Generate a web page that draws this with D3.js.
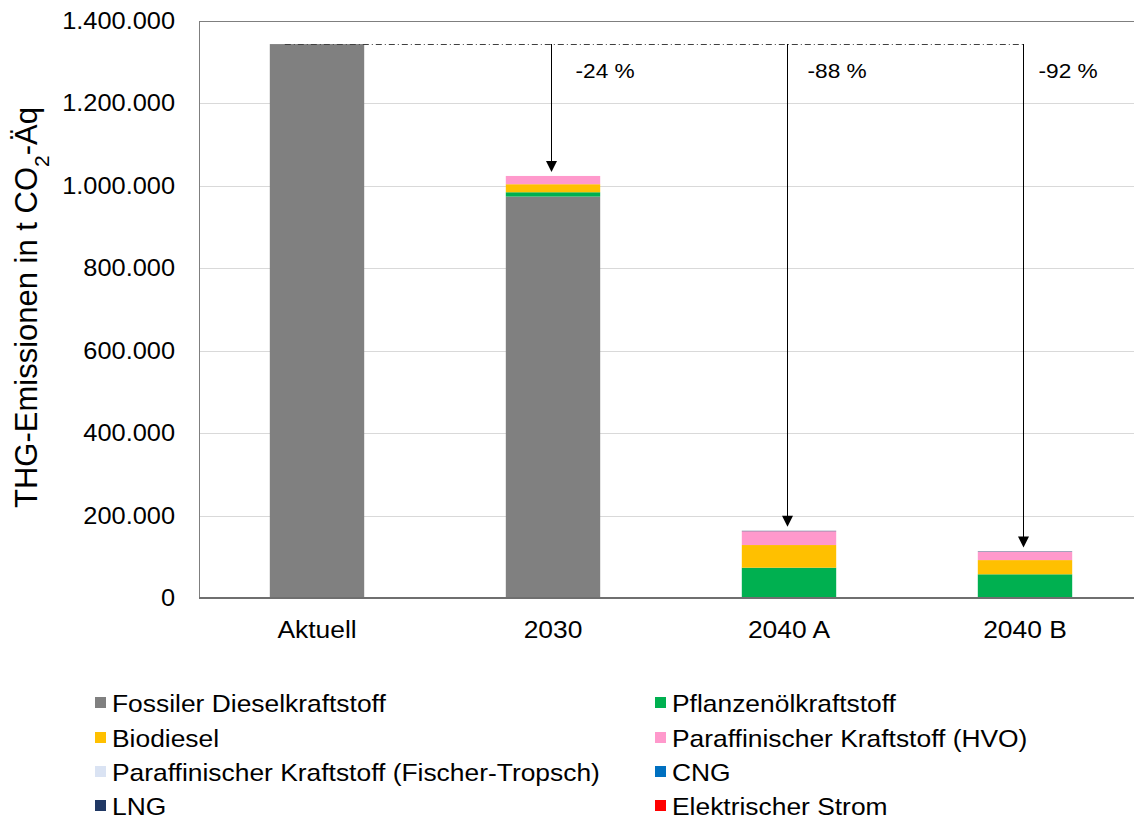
<!DOCTYPE html>
<html>
<head>
<meta charset="utf-8">
<script src="https://cdn.jsdelivr.net/npm/d3@7"></script>
<style>
  body { margin: 0; background: #fff; }
  svg { font-family: "Liberation Sans", Arial, sans-serif; }
</style>
</head>
<body>
<svg id="plot"></svg>
<script>
const categories = ["Aktuell", "2030", "2040 A", "2040 B"];
const seriesNames = [
  "Fossiler Dieselkraftstoff", "Pflanzenölkraftstoff", "Biodiesel",
  "Paraffinischer Kraftstoff (HVO)", "Paraffinischer Kraftstoff (Fischer-Tropsch)",
  "CNG", "LNG", "Elektrischer Strom"
];
const seriesColors = ["#808080", "#00B050", "#FFC000", "#FF99CC", "#DAE3F3", "#0070C0", "#203864", "#FF0000"];
const fossil = [1344000, 974000, 0, 0];
const pflanzenoel = [0, 10500, 73500, 57500];
const biodiesel = [0, 19500, 55000, 34500];
const hvo = [0, 20000, 33500, 20000];
const fischerTropsch = [0, 0, 0, 0];
const cng = [0, 0, 0, 0];
const lng = [0, 0, 1000, 1000];
const strom = [0, 0, 0, 0];
const reductionLabels = ["", "-24 %", "-88 %", "-92 %"];
const yTicks = [0, 200000, 400000, 600000, 800000, 1000000, 1200000, 1400000];

const dimensions = { width: 1134, height: 819, left: 199, top: 21, right: 1143, bottom: 598 };
const stretch = 1.08; // text in the reference is a bit wider than tall
const labelOffsets = [0, 24, 20, 15];

const allSeries = [fossil, pflanzenoel, biodiesel, hvo, fischerTropsch, cng, lng, strom];
const table = categories.map((c, i) => {
  const row = { cat: c };
  seriesNames.forEach((s, j) => row[s] = allSeries[j][i]);
  return row;
});
const stacked = d3.stack().keys(seriesNames)(table);

const de = d3.formatLocale({ decimal: ",", thousands: ".", grouping: [3], currency: ["", " €"] });
const fmt = de.format(",.0f");

const svg = d3.select("#plot")
  .attr("width", dimensions.width)
  .attr("height", dimensions.height);

const xScale = d3.scaleBand()
  .domain(categories)
  .range([dimensions.left, dimensions.right])
  .paddingInner(0.6)
  .paddingOuter(0.3);

const yScale = d3.scaleLinear()
  .domain([0, 1400000])
  .range([dimensions.bottom, dimensions.top]);

// places a stretched text at x,y
var putText = function (sel, x, y, size, str, anchor, sx) {
  return sel.append("text")
    .attr("transform", `translate(${x},${y}) scale(${sx || stretch},1)`)
    .attr("font-size", size)
    .attr("text-anchor", anchor || "start")
    .attr("fill", "#000")
    .text(str);
};

// gridlines
svg.append("g")
  .selectAll("line")
  .data(yTicks.slice(1, -1))
  .join("line")
  .attr("x1", dimensions.left).attr("x2", dimensions.right)
  .attr("y1", d => Math.round(yScale(d)) + 0.5).attr("y2", d => Math.round(yScale(d)) + 0.5)
  .attr("stroke", "#d9d9d9").attr("stroke-width", 1);

// plot frame
svg.append("rect")
  .attr("x", dimensions.left + 0.5).attr("y", dimensions.top + 0.5)
  .attr("width", dimensions.right - dimensions.left)
  .attr("height", dimensions.bottom - dimensions.top)
  .attr("fill", "none").attr("stroke", "#7f7f7f").attr("stroke-width", 1);

// bars
svg.append("g")
  .selectAll("g")
  .data(stacked)
  .join("g")
  .attr("fill", (d, i) => seriesColors[i])
  .selectAll("rect")
  .data(d => d)
  .join("rect")
  .attr("x", d => xScale(d.data.cat))
  .attr("width", xScale.bandwidth())
  .attr("y", d => yScale(d[1]))
  .attr("height", d => yScale(d[0]) - yScale(d[1]));

// x axis line
svg.append("line")
  .attr("x1", dimensions.left).attr("x2", dimensions.right)
  .attr("y1", dimensions.bottom).attr("y2", dimensions.bottom)
  .attr("stroke", "#6f6f6f").attr("stroke-width", 2);

// y tick labels
const yG = svg.append("g");
yTicks.forEach(t => putText(yG, 175, yScale(t) + 8, 23.5, fmt(t), "end"));

// x tick labels
const xG = svg.append("g");
categories.forEach(c => putText(xG, xScale(c) + xScale.bandwidth() / 2, 638, 24, c, "middle", 1.1));

// y title
const yTitle = svg.append("text")
  .attr("transform", `translate(37,${(dimensions.top + dimensions.bottom) / 2 - 2}) rotate(-90)`)
  .attr("text-anchor", "middle")
  .attr("font-size", 31)
  .attr("fill", "#000");
yTitle.append("tspan").text("THG-Emissionen in t CO");
yTitle.append("tspan").attr("baseline-shift", "sub").attr("font-size", 21).text("2");
yTitle.append("tspan").text("-Äq");

// reference line + arrows
const totals = table.map(r => seriesNames.reduce((a, s) => a + r[s], 0));
const refY = Math.round(yScale(totals[0]));
const arrowX = i => Math.round(xScale(categories[i]) + xScale.bandwidth() / 2 - 2);

svg.append("line")
  .attr("x1", xScale(categories[0]) + 15).attr("x2", arrowX(3))
  .attr("y1", refY + 0.5).attr("y2", refY + 0.5)
  .attr("stroke", "#404040").attr("stroke-width", 1)
  .attr("stroke-dasharray", "6,3,1,3");

const arrows = svg.append("g");
[1, 2, 3].forEach(i => {
  const x = arrowX(i) + 0.5;
  const tipY = yScale(totals[i]) - 4;
  arrows.append("line")
    .attr("x1", x).attr("x2", x)
    .attr("y1", refY).attr("y2", tipY - 10)
    .attr("stroke", "#000").attr("stroke-width", 1);
  arrows.append("path")
    .attr("d", `M${x - 5.5},${tipY - 11} L${x + 5.5},${tipY - 11} L${x},${tipY} Z`)
    .attr("fill", "#000");
  putText(arrows, x + labelOffsets[i], 78, 21, reductionLabels[i]);
});

// legend, two columns filled row by row
const legendCols = [95, 655];
const legendRows = [703, 738, 772, 806];
const legend = svg.append("g");
seriesNames.forEach((s, k) => {
  const col = k % 2, row = Math.floor(k / 2);
  const x = legendCols[col], y = legendRows[row];
  legend.append("rect").attr("x", x).attr("y", y - 6).attr("width", 11).attr("height", 11).attr("fill", seriesColors[k]);
  putText(legend, x + 17, y + 8.5, 24, s, "start", 1.1);
});
</script>
</body>
</html>
